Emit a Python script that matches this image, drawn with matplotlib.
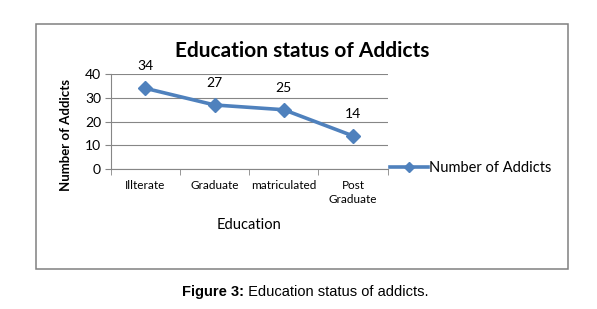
import matplotlib.pyplot as plt
from matplotlib.patches import Rectangle

categories = ['Illterate', 'Graduate', 'matriculated', 'Post\nGraduate']
addicts = [34, 27, 25, 14]
yticks = [0, 10, 20, 30, 40]

W, H = 597, 309
blue = '#4F81BD'
plt.rcParams['font.family'] = ['Lato', 'DejaVu Sans']

fig = plt.figure(figsize=(W / 100, H / 100), dpi=100)

# outer frame of the chart
fig.patches.append(Rectangle((36 / W, 1 - 269 / H), 532 / W, 245 / H,
                             transform=fig.transFigure, fill=False,
                             edgecolor='#808080', linewidth=1.1))

ax = fig.add_axes([110.7 / W, 1 - 169.3 / H, 277 / W, 95.3 / H])
x = list(range(len(categories)))
ax.plot(x, addicts, color=blue, linewidth=2.6, marker='D', markersize=7,
        label='Number of Addicts', clip_on=False, zorder=3)
for xi, v in zip(x, addicts):
    ax.annotate(str(v), (xi, v), xytext=(0, 16), textcoords='offset points',
                ha='center', va='center', fontsize=10)

ax.set_xlim(-0.5, len(categories) - 0.5)
ax.set_ylim(0, 40)
ax.set_yticks(yticks)
ax.set_yticklabels([str(t) for t in yticks], fontsize=10)
ax.set_xticks(x)
ax.set_xticklabels(categories, fontsize=8.5, linespacing=1.25)
ax.set_xticks([i - 0.5 for i in range(len(categories) + 1)], minor=True)
ax.tick_params(axis='x', which='major', length=0, pad=8)
ax.tick_params(axis='x', which='minor', length=4, color='#868686')
ax.tick_params(axis='y', length=4, color='#868686', pad=3)
ax.grid(axis='y', color='#868686', linewidth=0.8)
ax.set_axisbelow(True)
for s in ['top', 'right']:
    ax.spines[s].set_visible(False)
for s in ['left', 'bottom']:
    ax.spines[s].set_color('#868686')

fig.text(302 / W, 1 - 51 / H, 'Education status of Addicts', ha='center',
         va='center', fontsize=15, fontweight='bold')
fig.text(249 / W, 1 - 225 / H, 'Education', ha='center', va='center',
         fontsize=10.5)
fig.text(66 / W, 1 - 135 / H, 'Number of Addicts', ha='center', va='center',
         rotation=90, fontsize=9.5, fontweight='bold')

fig.legend(loc='center left', bbox_to_anchor=(390 / W, 1 - 168 / H),
           frameon=False, fontsize=10.5, handlelength=2.6, handletextpad=0.05,
           borderaxespad=0, borderpad=0, markerscale=0.8)

fig.text(244.5 / W, 1 - 292 / H, 'Figure 3:', ha='right', va='center',
         fontsize=10.5, fontweight='bold', family='Liberation Sans')
fig.text(244.5 / W, 1 - 292 / H, ' Education status of addicts.', ha='left',
         va='center', fontsize=10.5, family='Liberation Sans')

fig.savefig('out.png', dpi=100)
